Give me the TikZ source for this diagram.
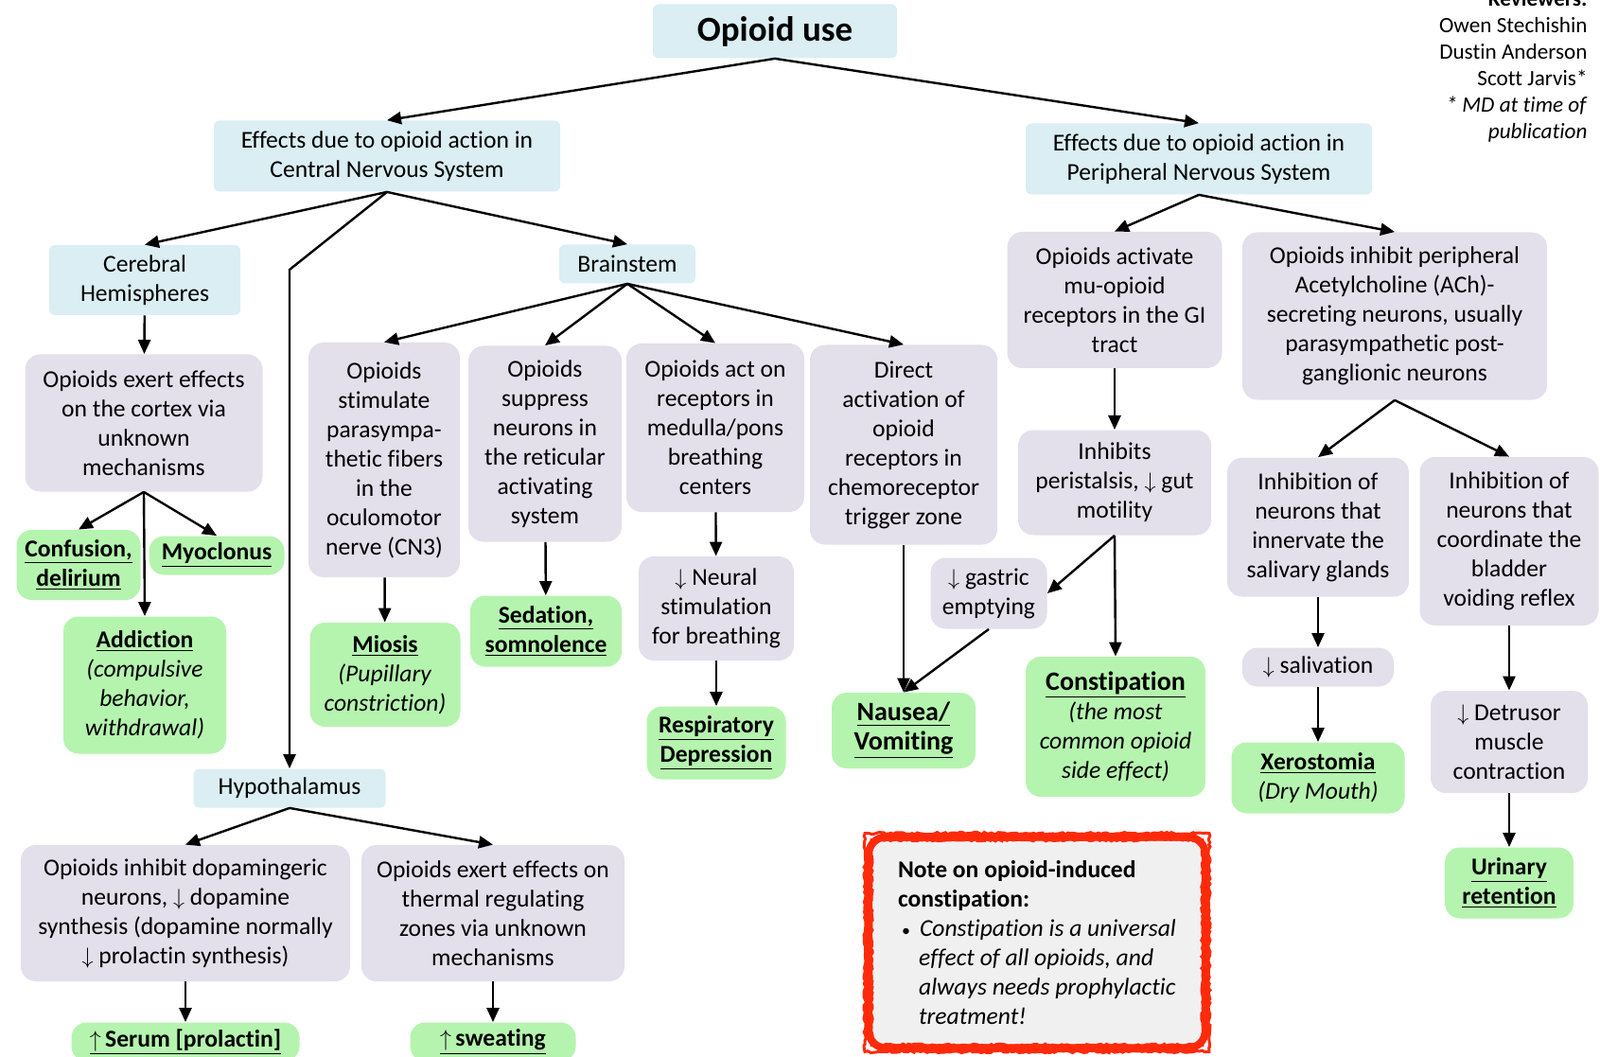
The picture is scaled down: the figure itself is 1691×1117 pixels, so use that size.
\documentclass[tikz,border=0pt]{standalone}
\usepackage{fontspec}
\setmainfont{Carlito}[Ligatures=NoCommon]
\usepackage{xcolor}
\usetikzlibrary{arrows.meta, decorations.pathmorphing}

\definecolor{hdrblue}{HTML}{DAEEF3}
\definecolor{mechgray}{HTML}{E3DFEB}
\definecolor{fxgreen}{HTML}{B5F4AE}
\definecolor{notered}{HTML}{FF2A0A}
\definecolor{notegray}{HTML}{F0F0F0}

\begin{document}
\begin{tikzpicture}[x=0.5pt, y=-0.5pt, >={Triangle[length=7.5pt, width=6.5pt]},
    every node/.style={inner sep=2pt, align=center, font=\fontsize{12.8}{15.5}\selectfont},
    hdr/.style={fill=hdrblue, rounded corners=3pt},
    mech/.style={fill=mechgray, rounded corners=8pt},
    fx/.style={fill=fxgreen, rounded corners=8pt}]
    \useasboundingbox (0,0) rectangle (1691,1117);

    \node (title) [hdr, minimum width=129pt, minimum height=28.5pt, font=\fontsize{18.5}{22}\selectfont\bfseries] at (819,33) {Opioid use};
    \node (credits) [anchor=north east, inner sep=0pt, align=right, font=\fontsize{11.6}{14}\selectfont] at (1678,-10)
        {\textbf{Reviewers:}\\Owen Stechishin\\Dustin Anderson\\Scott Jarvis*\\\textit{* MD at time of}\\\textit{publication}};

    \node (cns) [hdr, minimum width=183pt, minimum height=37.5pt] at (409,165) {Effects due to opioid action in\\Central Nervous System};
    \node (pns) [hdr, minimum width=183pt, minimum height=37.5pt] at (1267,168) {Effects due to opioid action in\\Peripheral Nervous System};

    % Central nervous system
    \node (cereb) [hdr, minimum width=101pt, minimum height=37pt] at (153,296) {Cerebral\\Hemispheres};
    \node (brain) [hdr, minimum width=72pt, minimum height=20.5pt] at (663,279) {Brainstem};
    \node (hypo) [hdr, minimum width=101.5pt, minimum height=20.5pt] at (306,833) {Hypothalamus};

    \node (cortex) [mech, minimum width=125.5pt, minimum height=72.5pt] at (152,447) {Opioids exert effects\\on the cortex via\\unknown\\mechanisms};
    \node (confus) [fx, minimum width=65.5pt, minimum height=37pt] at (83,597) {\underline{\textbf{Confusion,}}\\\underline{\textbf{delirium}}};
    \node (myoc) [fx, minimum width=71.5pt, minimum height=20.5pt] at (229,587) {\underline{\textbf{Myoclonus}}};
    \node (addict) [fx, minimum width=86pt, minimum height=72.5pt] at (153,724) {\underline{\textbf{Addiction}}\\\textit{(compulsive}\\\textit{behavior,}\\\textit{withdrawal)}};

    \node (stim) [mech, minimum width=80pt, minimum height=124pt] at (406,486) {Opioids\\stimulate\\parasympa-\\thetic fibers\\in the\\oculomotor\\nerve (CN3)};
    \node (supp) [mech, minimum width=81pt, minimum height=103.5pt] at (576,469) {Opioids\\suppress\\neurons in\\the reticular\\activating\\system};
    \node (medul) [mech, minimum width=94pt, minimum height=89pt] at (756,452) {Opioids act on\\receptors in\\medulla/pons\\breathing\\centers};
    \node (direct) [mech, minimum width=99pt, minimum height=105.5pt] at (955,470) {Direct\\activation of\\opioid\\receptors in\\chemoreceptor\\trigger zone};
    \node (miosis) [fx, minimum width=79.5pt, minimum height=55pt] at (407,713) {\underline{\textbf{Miosis}}\\\textit{(Pupillary}\\\textit{constriction)}};
    \node (sedat) [fx, minimum width=80pt, minimum height=37.5pt] at (577,667) {\underline{\textbf{Sedation,}}\\\underline{\textbf{somnolence}}};
    \node (neural) [mech, minimum width=82pt, minimum height=55pt] at (757,643) {$\downarrow$ Neural\\stimulation\\for breathing};
    \node (resp) [fx, minimum width=73.5pt, minimum height=38.5pt] at (757,785) {\underline{\textbf{Respiratory}}\\\underline{\textbf{Depression}}};
    \node (nausea) [fx, minimum width=76pt, minimum height=40pt, font=\fontsize{14}{15.5}\selectfont] at (955,772) {\underline{\textbf{Nausea/}}\\\underline{\textbf{Vomiting}}};

    \node (dopa) [mech, minimum width=174pt, minimum height=72pt] at (196,965) {Opioids inhibit dopamingeric\\neurons, $\downarrow$ dopamine\\synthesis (dopamine normally\\$\downarrow$ prolactin synthesis)};
    \node (thermal) [mech, minimum width=139pt, minimum height=72pt] at (521,965) {Opioids exert effects on\\thermal regulating\\zones via unknown\\mechanisms};
    \node (prolac) [fx, minimum width=120.5pt, minimum height=20.5pt] at (196,1101) {\underline{\textbf{$\uparrow$\,Serum [prolactin]}}};
    \node (sweat) [fx, minimum width=87.5pt, minimum height=20.5pt] at (521,1101) {\underline{\textbf{$\uparrow$\,sweating}}};

    % Peripheral nervous system
    \node (gimu) [mech, minimum width=113.5pt, minimum height=72pt] at (1178,317) {Opioids activate\\mu-opioid\\receptors in the GI\\tract};
    \node (peri) [mech, minimum width=102pt, minimum height=55.5pt] at (1178,510) {Inhibits\\peristalsis, $\downarrow$ gut\\motility};
    \node (gastric) [mech, minimum width=61.5pt, minimum height=37.5pt] at (1045,627) {$\downarrow$ gastric\\emptying};
    \node (constip) [fx, minimum width=95pt, minimum height=74pt] at (1179,768) {{\fontsize{14}{15.5}\selectfont\underline{\textbf{Constipation}}}\\\textit{(the most}\\\textit{common opioid}\\\textit{side effect)}};

    \node (ach) [mech, minimum width=161pt, minimum height=88.5pt] at (1474,334) {Opioids inhibit peripheral\\Acetylcholine (ACh)-\\secreting neurons, usually\\parasympathetic post-\\ganglionic neurons};
    \node (saliv) [mech, minimum width=96pt, minimum height=73.5pt] at (1393,557) {Inhibition of\\neurons that\\innervate the\\salivary glands};
    \node (bladder) [mech, minimum width=94.5pt, minimum height=89pt] at (1595,572) {Inhibition of\\neurons that\\coordinate the\\bladder\\voiding reflex};
    \node (salivation) [mech, minimum width=80pt, minimum height=20.5pt] at (1393,705) {$\downarrow$ salivation};
    \node (xero) [fx, minimum width=91.5pt, minimum height=37.5pt] at (1393,822) {\underline{\textbf{Xerostomia}}\\\textit{(Dry Mouth)}};
    \node (detrus) [mech, minimum width=83pt, minimum height=54pt] at (1595,784) {$\downarrow$ Detrusor\\muscle\\contraction};
    \node (urin) [fx, minimum width=68pt, minimum height=37.5pt] at (1595,933) {\underline{\textbf{Urinary}}\\\underline{\textbf{retention}}};

    % Note box
    \node (note) [fill=notegray, rounded corners=8pt, align=left, minimum width=177.5pt, minimum height=111pt] at (1096,996)
        {\textbf{Note on opioid-induced}\\\textbf{constipation:}\\
         \hspace*{2pt}{\small\textbullet}\hspace{5pt}\textit{Constipation is a universal}\\
         \hspace*{11pt}\textit{effect of all opioids, and}\\
         \hspace*{11pt}\textit{always needs prophylactic}\\
         \hspace*{11pt}\textit{treatment!}};
    \draw[notered, line width=4pt, rounded corners=9pt]
        (note.north west) rectangle (note.south east);
    \draw[notered, line width=1.5pt, decorate, decoration={random steps, segment length=1.5pt, amplitude=0.6pt}]
        ([shift={(-4,-4)}]note.north west) rectangle ([shift={(4,4)}]note.south east);
    \draw[notered, line width=1.5pt, decorate, decoration={random steps, segment length=1.5pt, amplitude=0.6pt}]
        ([shift={(3,3)}]note.north west) rectangle ([shift={(-3,-3)}]note.south east);

    % Connections
    \coordinate (bend) at (306,285);
    \draw[->, very thick] (title.south) -- (cns.north);
    \draw[->, very thick] (title.south) -- (pns.north);
    \draw[->, very thick] (cns.south) -- (cereb.north);
    \draw[->, very thick] (cns.south) -- (brain.north);
    \draw[->, very thick] (cns.south) -- (bend) -- (hypo.north);
    \draw[->, very thick] (cereb) -- (cortex);
    \draw[->, very thick] (cortex.south) -- (confus.north);
    \draw[->, very thick] (cortex.south) -- (myoc.north);
    \draw[->, very thick] (cortex.south) -- (addict.north);
    \draw[->, very thick] (brain.south) -- (stim.north);
    \draw[->, very thick] (brain.south) -- (supp.north);
    \draw[->, very thick] (brain.south) -- (medul.north);
    \draw[->, very thick] (brain.south) -- (direct.north);
    \draw[->, very thick] (stim) -- (miosis);
    \draw[->, very thick] (supp) -- (sedat);
    \draw[->, very thick] (medul) -- (neural);
    \draw[->, very thick] (neural) -- (resp);
    \draw[->, very thick] (direct.south) -- (nausea.north);
    \draw[->, very thick] (gastric.south) -- (nausea.north);
    \draw[->, very thick] (hypo.south) -- (dopa.north);
    \draw[->, very thick] (hypo.south) -- (thermal.north);
    \draw[->, very thick] (dopa) -- (prolac);
    \draw[->, very thick] (thermal) -- (sweat);
    \draw[->, very thick] (pns.south) -- (gimu.north);
    \draw[->, very thick] (pns.south) -- (ach.north);
    \draw[->, very thick] (gimu) -- (peri);
    \draw[->, very thick] (peri.south) -- (gastric.east);
    \draw[->, very thick] (peri.south) -- (constip.north);
    \draw[->, very thick] (ach.south) -- (saliv.north);
    \draw[->, very thick] (ach.south) -- (bladder.north);
    \draw[->, very thick] (saliv) -- (salivation);
    \draw[->, very thick] (salivation) -- (xero);
    \draw[->, very thick] (bladder) -- (detrus);
    \draw[->, very thick] (detrus) -- (urin);
\end{tikzpicture}
\end{document}
